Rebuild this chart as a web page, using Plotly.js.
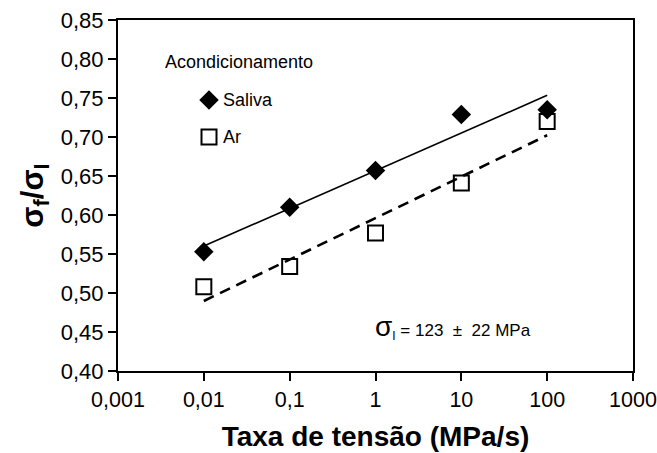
<!DOCTYPE html>
<html>
<head>
<meta charset="utf-8">
<script src="https://cdn.plot.ly/plotly-3.0.1.min.js"></script>
<style>
  html, body { margin: 0; padding: 0; background: #fff; }
  #chart { width: 657px; height: 453px; }
</style>
</head>
<body>
<div id="chart"></div>
<script>
// Stress rate (MPa/s) and normalised strength sigma_f / sigma_i
const taxa = [0.01, 0.1, 1, 10, 100];
const saliva = [0.553, 0.610, 0.657, 0.729, 0.735];
const ar = [0.508, 0.534, 0.577, 0.641, 0.720];

const xTickVals = [0.001, 0.01, 0.1, 1, 10, 100, 1000];
const xTickText = ['0,001', '0,01', '0,1', '1', '10', '100', '1000'];

// Logarithmic trend line: least squares fit of y against log10(x)
function logFit(xs, ys) {
  const lx = xs.map(v => Math.log10(v));
  const n = lx.length;
  const mx = lx.reduce((a, b) => a + b, 0) / n;
  const my = ys.reduce((a, b) => a + b, 0) / n;
  let sxy = 0, sxx = 0;
  for (let i = 0; i < n; i++) {
    sxy += (lx[i] - mx) * (ys[i] - my);
    sxx += (lx[i] - mx) * (lx[i] - mx);
  }
  const b = sxy / sxx;
  const a = my - b * mx;
  return xs.map(v => a + b * Math.log10(v));
}

const FONT = 'Liberation Sans, Arial, Helvetica, sans-serif';

const traces = [
  {
    x: taxa, y: ar, type: 'scatter', mode: 'markers', name: 'Ar',
    marker: { symbol: 'square', size: 15, color: '#fff', line: { color: '#000', width: 2 } },
    showlegend: false, hoverinfo: 'skip'
  },
  {
    x: taxa, y: saliva, type: 'scatter', mode: 'markers', name: 'Saliva',
    marker: { symbol: 'diamond', size: 15, color: '#000', line: { width: 0 } },
    showlegend: false, hoverinfo: 'skip'
  },
  {
    x: taxa, y: logFit(taxa, saliva), type: 'scatter', mode: 'lines',
    line: { color: '#000', width: 1.6 }, showlegend: false, hoverinfo: 'skip'
  },
  {
    x: taxa, y: logFit(taxa, ar), type: 'scatter', mode: 'lines',
    line: { color: '#000', width: 2.6, dash: '11px,7px' }, showlegend: false, hoverinfo: 'skip'
  },
  // Key symbols, placed on a hidden unit overlay axis
  {
    x: [0.1767], y: [0.772], xaxis: 'x2', yaxis: 'y2', type: 'scatter', mode: 'markers',
    marker: { symbol: 'diamond', size: 15, color: '#000', line: { width: 0 } },
    showlegend: false, hoverinfo: 'skip'
  },
  {
    x: [0.1767], y: [0.667], xaxis: 'x2', yaxis: 'y2', type: 'scatter', mode: 'markers',
    marker: { symbol: 'square', size: 15, color: '#fff', line: { color: '#000', width: 2 } },
    showlegend: false, hoverinfo: 'skip'
  }
];

const layout = {
  width: 657, height: 453,
  margin: { l: 118, r: 24, t: 20, b: 82 },
  paper_bgcolor: '#fff', plot_bgcolor: '#fff',
  separators: ', ',
  font: { family: FONT, color: '#000' },
  showlegend: false,
  xaxis: {
    type: 'log', range: [-3, 3],
    tickvals: xTickVals, ticktext: xTickText,
    ticks: 'outside', ticklen: 8, tickwidth: 2, tickcolor: '#000',
    showline: true, linewidth: 2, linecolor: '#000', mirror: true,
    showgrid: false, zeroline: false,
    ticklabeloverflow: 'allow',
    tickfont: { size: 21.5, family: FONT, color: '#000' },
    title: { text: '<b>Taxa de tensão (MPa/s)</b>', font: { size: 28, family: FONT, color: '#000' }, standoff: 16 }
  },
  yaxis: {
    range: [0.40, 0.85], dtick: 0.05, tick0: 0.40, tickformat: '.2f',
    ticks: 'outside', ticklen: 8, tickwidth: 2, tickcolor: '#000',
    showline: true, linewidth: 2, linecolor: '#000', mirror: true,
    showgrid: false, zeroline: false,
    tickfont: { size: 22, family: FONT, color: '#000' },
    title: { text: '<b>σ<sub>f</sub>/σ<sub>I</sub></b>', font: { size: 31, family: FONT, color: '#000' }, standoff: 8 }
  },
  xaxis2: { overlaying: 'x', range: [0, 1], visible: false, fixedrange: true },
  yaxis2: { overlaying: 'y', range: [0, 1], visible: false, fixedrange: true },
  annotations: [
    {
      xref: 'paper', yref: 'paper', x: 0.087, y: 0.879, xanchor: 'left', yanchor: 'middle',
      text: 'Acondicionamento', showarrow: false, font: { size: 18, family: FONT, color: '#000' }
    },
    {
      xref: 'paper', yref: 'paper', x: 0.2, y: 0.772, xanchor: 'left', yanchor: 'middle',
      text: 'Saliva', showarrow: false, font: { size: 18, family: FONT, color: '#000' }
    },
    {
      xref: 'paper', yref: 'paper', x: 0.2, y: 0.667, xanchor: 'left', yanchor: 'middle',
      text: 'Ar', showarrow: false, font: { size: 18, family: FONT, color: '#000' }
    },
    {
      xref: 'paper', yref: 'paper', x: 0.495, y: 0.125, xanchor: 'left', yanchor: 'middle',
      text: '<span style="font-size:28px">σ</span><sub>I</sub> = 123  ±  22 MPa', showarrow: false,
      font: { size: 17, family: FONT, color: '#000' }
    }
  ]
};

Plotly.newPlot('chart', traces, layout, { staticPlot: true, displayModeBar: false });
</script>
</body>
</html>
